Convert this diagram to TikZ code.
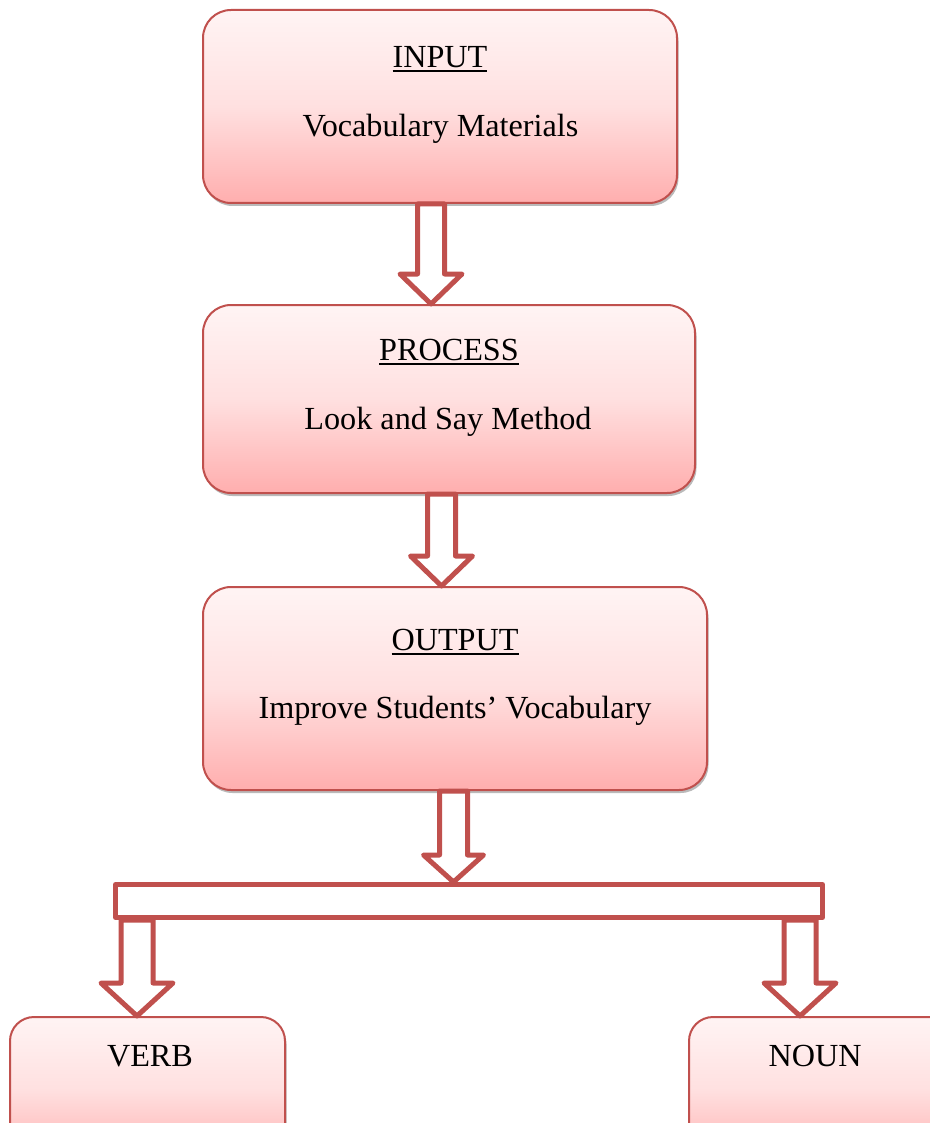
\documentclass[tikz,border=0pt]{standalone}
\usepackage{fontspec}
\setmainfont{Liberation Serif}
\usetikzlibrary{calc}
\usetikzlibrary{shadows}

\definecolor{boxred}{RGB}{192,80,77}
\definecolor{boxtop}{RGB}{255,244,244}
\definecolor{boxmid}{RGB}{255,224,224}
\definecolor{boxbottom}{RGB}{255,174,174}

\newcommand{\ulined}[1]{\leavevmode\vtop{\hbox{#1}\kern2.6pt\hrule height 1.7pt}}

% hollow block arrow: from, to, shaft half width, head half width, head length
\newcommand{\hollowarrow}[5]{%
  \draw [arrow_style] let \p1=(#1), \p2=(#2) in
    (\x1-#3pt,\y1) -- (\x1-#3pt,\y2+#5pt) -- (\x1-#4pt,\y2+#5pt) -- (\x1,\y2)
    -- (\x1+#4pt,\y2+#5pt) -- (\x1+#3pt,\y2+#5pt) -- (\x1+#3pt,\y1) -- cycle;}

\begin{document}
\begin{tikzpicture}[x=1pt, y=-1pt, line join=round,
        box_style/.style={draw=boxred, line width=2pt, rounded corners=28pt,
            top color=boxtop, bottom color=boxbottom, middle color=boxmid,
            drop shadow={shadow xshift=1.5pt, shadow yshift=-3pt, fill=black!45, opacity=0.6}},
        bar_style/.style={draw=boxred, line width=5pt, fill=white, inner sep=0pt},
        arrow_style/.style={draw=boxred, line width=5pt, fill=white},
        text_style/.style={anchor=base, inner sep=0pt, font=\fontsize{32.2}{38}\selectfont}]

        \useasboundingbox (0,0) rectangle (929,1123);

        \node [box_style, minimum width=474, minimum height=193] (in_box) at (440,106.5) {};
        \node [text_style] (in_title) at (440,67.5) {\ulined{INPUT}};
        \node [text_style] (in_text) at (440.5,137) {Vocabulary Materials};

        \node [box_style, minimum width=492, minimum height=188] (pro_box) at (449,399) {};
        \node [text_style] (pro_title) at (449,360.5) {\ulined{PROCESS}};
        \node [text_style] (pro_text) at (448,429.5) {Look and Say Method};

        \node [box_style, minimum width=504, minimum height=203] (out_box) at (455,688.5) {};
        \node [text_style] (out_title) at (455,650) {\ulined{OUTPUT}};
        \node [text_style] (out_text) at (455,718) {Improve Students’ Vocabulary};

        \node [box_style, rounded corners=24pt, minimum width=275, minimum height=146] (verb_box) at (147.5,1090) {};
        \node [text_style] (verb_text) at (150,1066) {VERB};

        \node [box_style, rounded corners=24pt, minimum width=272, minimum height=146] (noun_box) at (825,1090) {};
        \node [text_style] (noun_text) at (815,1066) {NOUN};

        \node [bar_style, minimum width=707, minimum height=33] (bar) at (469,901) {};

        \coordinate (a1) at (431,0);
        \coordinate (a2) at (441.5,0);
        \coordinate (a3) at (453.5,0);
        \coordinate (a4) at (137,0);
        \coordinate (a5) at (800,0);

        \hollowarrow{a1 |- in_box.south}{a1 |- pro_box.north}{13.5}{31}{30}
        \hollowarrow{a2 |- pro_box.south}{a2 |- out_box.north}{14}{31}{30}
        \hollowarrow{a3 |- out_box.south}{a3 |- bar.north}{14}{30}{27}
        \hollowarrow{a4 |- bar.south}{a4 |- verb_box.north}{16}{36}{33}
        \hollowarrow{a5 |- bar.south}{a5 |- noun_box.north}{16}{36}{33}

        \end{tikzpicture}
\end{document}
